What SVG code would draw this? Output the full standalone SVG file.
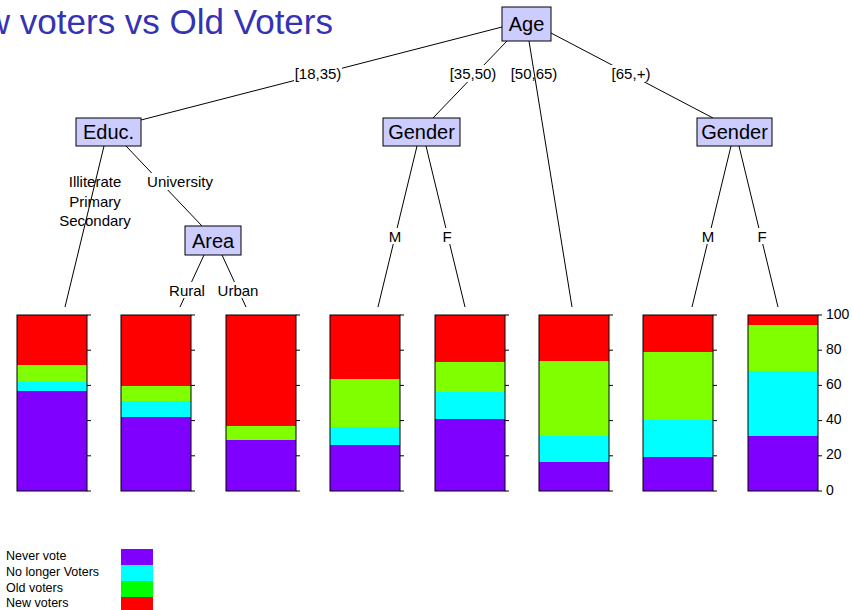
<svg xmlns="http://www.w3.org/2000/svg" width="852" height="610" viewBox="0 0 852 610">
<style>
.node rect{fill:#ccccff;stroke:#000;stroke-width:1}
.node text{font-family:"Liberation Sans",Arial,sans-serif;font-size:20px;fill:#000;text-anchor:middle;dominant-baseline:central}
.lbl{font-family:"Liberation Sans",Arial,sans-serif;font-size:15px;fill:#000;text-anchor:middle;dominant-baseline:central}
.bg{fill:#fff}
.edges line{stroke:#000;stroke-width:1}
.p{fill:#8000ff}.c{fill:#00ffff}.g{fill:#80ff00}.r{fill:#ff0000}
.frame{fill:none;stroke:#000;stroke-width:1}
.tick{stroke:#000;stroke-width:1}
.ax{font-family:"Liberation Sans",Arial,sans-serif;font-size:14px;fill:#000;dominant-baseline:central}
.leg{font-family:"Liberation Sans",Arial,sans-serif;font-size:12.5px;fill:#000;dominant-baseline:central}
</style>
<rect width="852" height="610" fill="#fff"/>
<text x="333" y="34" font-family="Liberation Sans,Arial,sans-serif" font-size="35" fill="#3333b3" text-anchor="end">New voters vs Old Voters</text>

<g id="connectors" class="edges">
<line x1="502" y1="27" x2="141" y2="120"/>
<line x1="507" y1="41" x2="433" y2="118"/>
<line x1="529" y1="41" x2="572" y2="307"/>
<line x1="551" y1="33" x2="713" y2="118"/>
<line x1="104" y1="146" x2="65" y2="307"/>
<line x1="126" y1="146" x2="202" y2="226"/>
<line x1="204" y1="255" x2="180" y2="307"/>
<line x1="222" y1="255" x2="246" y2="307"/>
<line x1="417" y1="146" x2="378" y2="307"/>
<line x1="426" y1="146" x2="465" y2="307"/>
<line x1="731" y1="146" x2="692" y2="307"/>
<line x1="739" y1="146" x2="778" y2="307"/>
</g>

<g id="edge-labels">
<rect class="bg" x="294" y="65" width="48" height="17"/><text class="lbl" x="318" y="73">[18,35)</text>
<rect class="bg" x="451" y="65" width="45" height="17"/><text class="lbl" x="473" y="73">[35,50)</text>
<text class="lbl" x="534" y="73">[50,65)</text>
<rect class="bg" x="610" y="65" width="42" height="17"/><text class="lbl" x="631" y="73">[65,+)</text>
<text class="lbl" x="95" y="181">Illiterate</text>
<text class="lbl" x="95" y="201">Primary</text>
<text class="lbl" x="95" y="220">Secondary</text>
<rect class="bg" x="148" y="173" width="65" height="17"/><text class="lbl" x="180" y="181">University</text>
<rect class="bg" x="170" y="282" width="34" height="16"/><text class="lbl" x="187" y="290">Rural</text>
<rect class="bg" x="219" y="282" width="39" height="16"/><text class="lbl" x="238" y="290">Urban</text>
<rect class="bg" x="388" y="228" width="14" height="16"/><text class="lbl" x="395" y="236">M</text>
<rect class="bg" x="442" y="228" width="11" height="16"/><text class="lbl" x="447" y="236">F</text>
<rect class="bg" x="701" y="228" width="15" height="16"/><text class="lbl" x="708" y="236">M</text>
<rect class="bg" x="756" y="228" width="11" height="16"/><text class="lbl" x="762" y="236">F</text>
</g>

<g id="node-age" class="node"><rect x="502" y="7" width="49" height="34"/><text x="526.5" y="24">Age</text></g>
<g id="node-educ" class="node"><rect x="76" y="118" width="65" height="28"/><text x="108.5" y="132">Educ.</text></g>
<g id="node-gender1" class="node"><rect x="383" y="118" width="77" height="28"/><text x="421.5" y="132">Gender</text></g>
<g id="node-gender2" class="node"><rect x="697" y="118" width="75" height="28"/><text x="734.5" y="132">Gender</text></g>
<g id="node-area" class="node"><rect x="185" y="226" width="56" height="29"/><text x="213" y="240.5">Area</text></g>

<defs>
<g id="ticks">
<line class="tick" x1="70" y1="315" x2="74" y2="315"/>
<line class="tick" x1="70" y1="350.2" x2="74" y2="350.2"/>
<line class="tick" x1="70" y1="385.4" x2="74" y2="385.4"/>
<line class="tick" x1="70" y1="420.6" x2="74" y2="420.6"/>
<line class="tick" x1="70" y1="455.8" x2="74" y2="455.8"/>
<line class="tick" x1="70" y1="491" x2="74" y2="491"/>
</g>
</defs>

<g id="bar1" transform="translate(17,0)">
<rect class="p" x="0" y="391" width="70" height="100"/><rect class="c" x="0" y="382" width="70" height="9"/><rect class="g" x="0" y="365" width="70" height="17"/><rect class="r" x="0" y="315" width="70" height="50"/>
<rect class="frame" x="0" y="315" width="70" height="176"/><use href="#ticks"/></g>
<g id="bar2" transform="translate(121,0)">
<rect class="p" x="0" y="417" width="70" height="74"/><rect class="c" x="0" y="401" width="70" height="16"/><rect class="g" x="0" y="386" width="70" height="15"/><rect class="r" x="0" y="315" width="70" height="71"/>
<rect class="frame" x="0" y="315" width="70" height="176"/><use href="#ticks"/></g>
<g id="bar3" transform="translate(226,0)">
<rect class="p" x="0" y="440" width="70" height="51"/><rect class="g" x="0" y="426" width="70" height="14"/><rect class="r" x="0" y="315" width="70" height="111"/>
<rect class="frame" x="0" y="315" width="70" height="176"/><use href="#ticks"/></g>
<g id="bar4" transform="translate(330,0)">
<rect class="p" x="0" y="445" width="70" height="46"/><rect class="c" x="0" y="427" width="70" height="18"/><rect class="g" x="0" y="379" width="70" height="48"/><rect class="r" x="0" y="315" width="70" height="64"/>
<rect class="frame" x="0" y="315" width="70" height="176"/><use href="#ticks"/></g>
<g id="bar5" transform="translate(435,0)">
<rect class="p" x="0" y="419" width="70" height="72"/><rect class="c" x="0" y="392" width="70" height="27"/><rect class="g" x="0" y="362" width="70" height="30"/><rect class="r" x="0" y="315" width="70" height="47"/>
<rect class="frame" x="0" y="315" width="70" height="176"/><use href="#ticks"/></g>
<g id="bar6" transform="translate(539,0)">
<rect class="p" x="0" y="462" width="70" height="29"/><rect class="c" x="0" y="436" width="70" height="26"/><rect class="g" x="0" y="361" width="70" height="75"/><rect class="r" x="0" y="315" width="70" height="46"/>
<rect class="frame" x="0" y="315" width="70" height="176"/><use href="#ticks"/></g>
<g id="bar7" transform="translate(643,0)">
<rect class="p" x="0" y="457" width="70" height="34"/><rect class="c" x="0" y="420" width="70" height="37"/><rect class="g" x="0" y="352" width="70" height="68"/><rect class="r" x="0" y="315" width="70" height="37"/>
<rect class="frame" x="0" y="315" width="70" height="176"/><use href="#ticks"/></g>
<g id="bar8" transform="translate(748,0)">
<rect class="p" x="0" y="436" width="70" height="55"/><rect class="c" x="0" y="371" width="70" height="65"/><rect class="g" x="0" y="325" width="70" height="46"/><rect class="r" x="0" y="315" width="70" height="10"/>
<rect class="frame" x="0" y="315" width="70" height="176"/><use href="#ticks"/></g>

<g id="axis">
<text class="ax" x="826" y="314">100</text>
<text class="ax" x="826" y="349">80</text>
<text class="ax" x="826" y="384">60</text>
<text class="ax" x="826" y="419">40</text>
<text class="ax" x="826" y="454">20</text>
<text class="ax" x="826" y="490">0</text>
</g>

<g id="legend">
<text class="leg" x="6" y="556">Never vote</text>
<text class="leg" x="6" y="572">No longer Voters</text>
<text class="leg" x="6" y="588">Old voters</text>
<text class="leg" x="6" y="603">New voters</text>
<rect x="121" y="549" width="32" height="16" fill="#8000ff"/>
<rect x="121" y="565" width="32" height="16" fill="#00ffff"/>
<rect x="121" y="581" width="32" height="16" fill="#00ff00"/>
<rect x="121" y="597" width="32" height="16" fill="#ff0000"/>
</g>
</svg>
